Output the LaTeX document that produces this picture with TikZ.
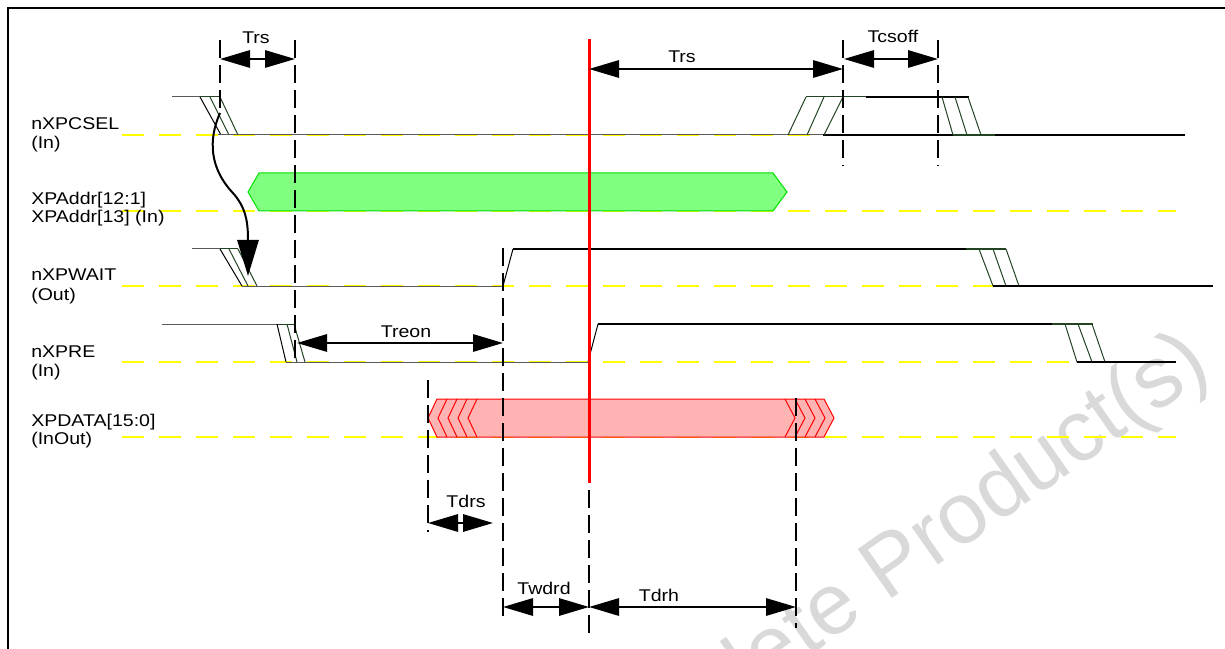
\documentclass[tikz,border=0pt]{standalone}
\usepackage{fontspec}
\setmainfont{Liberation Sans}[FakeStretch=1.15]
\newfontfamily\wmfont{Liberation Sans}
\usetikzlibrary{arrows.meta}
\definecolor{dkgreen}{HTML}{234423}
\definecolor{sgray}{HTML}{5A5A5A}
\definecolor{addrfill}{HTML}{80FF80}
\definecolor{addrline}{HTML}{00E000}
\definecolor{datafill}{HTML}{FFB3B3}
\definecolor{wmgray}{HTML}{D9D9D9}
\definecolor{ylw}{HTML}{FFFF00}
\begin{document}
\begin{tikzpicture}[x=0.75pt,y=-0.75pt,
  lbl/.style={inner sep=0pt, font=\fontsize{12.75}{14}\selectfont},
  ybase/.style={draw=ylw, line width=1.5pt, dash pattern=on 16.5pt off 11.25pt},
  thinsig/.style={draw=sgray, line width=0.75pt},
  hatch/.style={draw=dkgreen, line width=0.75pt},
  thinblk/.style={draw=black, line width=0.75pt},
  thickblk/.style={draw=black, line width=1.5pt},
  midblk/.style={draw=black, line width=1.1pt},
  vdash/.style={draw=black, line width=1.2pt, dash pattern=on 13.5pt off 5.25pt},
  dim/.style={draw=black, line width=1.5pt, {Triangle[length=22.5pt,width=13pt]}-{Triangle[length=22.5pt,width=13pt]}},
  curvearrow/.style={draw=black, line width=1.5pt, -{Triangle[length=27pt,width=16pt]}},
  addrbus/.style={fill=addrfill, draw=addrline, line width=0.75pt},
  databus/.style={fill=datafill, draw=red, line width=0.75pt},
  chev/.style={draw=red, line width=0.75pt}
]
\useasboundingbox (0,0) rectangle (1225,649);
\clip (0,0) rectangle (1225,649);
\fill[white] (0,0) rectangle (1225,649);

% watermark
\node[rotate=35, anchor=base west, inner sep=0pt, text=wmgray, font=\wmfont\fontsize{65}{65}\selectfont] (wm) at (582,815) {Obsolete Product(s)};

% frame
\draw[line width=1.5pt] (8,649) -- (8,8) -- (1225,8);

% yellow reference lines
\foreach \yy in {135,211,286,362,437}
  \draw[ybase] (122,\yy) -- (1176,\yy);

% ---- nXPCSEL ----
\draw[thinsig] (172,97) -- (200,97);
\draw[hatch] (200,97) -- (220,97);
\draw[thinblk] (200,97) -- (221,135);
\draw[hatch] (210,97) -- (229,135);
\draw[hatch] (220,97) -- (238,135);
\draw[thinsig] (218,135) -- (823,135);
\draw[thickblk] (823,135) -- (1185,135);
\draw[hatch] (788,135) -- (806,97);
\draw[hatch] (807,135) -- (824,97);
\draw[hatch] (824,135) -- (843,97);
\draw[hatch] (806,97) -- (866,97);
\draw[thickblk] (866,97) -- (969,97);
\draw[hatch] (942,97) -- (953,135);
\draw[hatch] (955,97) -- (967,135);
\draw[hatch] (968,97) -- (981,135);
\draw[hatch, line width=1.2pt] (953,135) -- (995,135);

% ---- XPAddr ----
\draw[addrbus] (248,192) -- (259,173) -- (773,173) -- (787,192) -- (773,211) -- (259,211) -- cycle;

% ---- nXPWAIT ----
\draw[thinsig] (192,249) -- (220,249);
\draw[hatch] (220,249) -- (238,249);
\draw[thinblk] (220,249) -- (242,286);
\draw[hatch] (229,249) -- (248,286);
\draw[hatch] (238,249) -- (257,286);
\draw[thinsig] (242,286) -- (503,286);
\draw[thinblk] (503,286) -- (513,249);
\draw[midblk] (513,249) -- (966,249);
\draw[hatch, line width=1.1pt] (966,249) -- (1006,249);
\draw[hatch] (979,249) -- (993,286);
\draw[hatch] (993,249) -- (1006,286);
\draw[hatch] (1006,249) -- (1019,286);
\draw[thickblk] (993,286) -- (1213,286);

% ---- nXPRE ----
\draw[thinsig] (162,324) -- (277,324);
\draw[hatch] (277,324) -- (295,324);
\draw[thinblk] (277,324) -- (286,362);
\draw[hatch] (287,324) -- (297,362);
\draw[hatch] (294,324) -- (305,362);
\draw[thinsig] (286,362) -- (588,362);
\draw[thinblk] (588,362) -- (598,324);
\draw[midblk] (598,324) -- (1052,324);
\draw[hatch, line width=1.1pt] (1052,324) -- (1093,324);
\draw[hatch] (1065,324) -- (1077,362);
\draw[hatch] (1078,324) -- (1092,362);
\draw[hatch] (1092,324) -- (1105,362);
\draw[thickblk] (1077,362) -- (1176,362);

% ---- XPDATA ----
\draw[databus] (428,418) -- (437,399) -- (824,399) -- (834,418) -- (824,437) -- (437,437) -- cycle;
\foreach \xx in {447,457,467,477}
  \draw[chev] (\xx,399) -- (\xx-9,418) -- (\xx,437);
\foreach \xx in {785,795,805,815}
  \draw[chev] (\xx,399) -- (\xx+10,418) -- (\xx,437);

% ---- dashed timing markers ----
\draw[vdash] (220,40) -- (220,113);
\draw[vdash] (295,40) -- (295,362);
\draw[vdash] (503,248) -- (503,618);
\draw[vdash] (589,40) -- (589,636);
\draw[vdash] (428,380) -- (428,532);
\draw[vdash] (796,398) -- (796,628);
\draw[vdash] (843,40) -- (843,166);
\draw[vdash] (938,40) -- (938,166);

% red sampling line
\draw[red, line width=2.25pt] (589,39) -- (589,483);

% curved causal arrow
\coordinate (cs) at (220,113);
\coordinate (ce) at (248,276);
\draw[curvearrow] (cs) .. controls (208,140) and (210,168) .. (232,192) .. controls (246,207) and (248,222) .. (ce);

% ---- dimension arrows ----
\coordinate (a1) at (220,59);  \coordinate (b1) at (295,59);
\coordinate (a2) at (589,69);  \coordinate (b2) at (843,69);
\coordinate (a3) at (844,59);  \coordinate (b3) at (938,59);
\coordinate (a4) at (297,343); \coordinate (b4) at (503,343);
\coordinate (a5) at (428,523); \coordinate (b5) at (493,523);
\coordinate (a6) at (503,607); \coordinate (b6) at (589,607);
\coordinate (a7) at (589,607); \coordinate (b7) at (796,607);
\draw[dim] (a1) -- (b1);
\draw[dim] (a2) -- (b2);
\draw[dim] (a3) -- (b3);
\draw[dim] (a4) -- (b4);
\draw[dim] (a5) -- (b5);
\draw[dim] (a6) -- (b6);
\draw[dim] (a7) -- (b7);

\node[lbl, anchor=base] (ltrs1) at (256,44) {Trs};
\node[lbl, anchor=base] (ltrs2) at (682,63) {Trs};
\node[lbl, anchor=base] (ltcs) at (893,43) {Tcsoff};
\node[lbl, anchor=base] (ltreon) at (406,337) {Treon};
\node[lbl, anchor=base] (ltdrs) at (466,507) {Tdrs};
\node[lbl, anchor=base] (ltwdrd) at (544,594) {Twdrd};
\node[lbl, anchor=base] (ltdrh) at (659,601) {Tdrh};

% ---- signal names ----
\node[lbl, anchor=base west] (n1a) at (31,130) {nXPCSEL};
\node[lbl, anchor=base west] (n1b) at (31,149) {(In)};
\node[lbl, anchor=base west] (n2a) at (31,205) {XPAddr[12:1]};
\node[lbl, anchor=base west] (n2b) at (31,223) {XPAddr[13] (In)};
\node[lbl, anchor=base west] (n3a) at (31,281) {nXPWAIT};
\node[lbl, anchor=base west] (n3b) at (31,300) {(Out)};
\node[lbl, anchor=base west] (n4a) at (31,357) {nXPRE};
\node[lbl, anchor=base west] (n4b) at (31,376) {(In)};
\node[lbl, anchor=base west] (n5a) at (31,426) {XPDATA[15:0]};
\node[lbl, anchor=base west] (n5b) at (31,444) {(InOut)};
\end{tikzpicture}
\end{document}
